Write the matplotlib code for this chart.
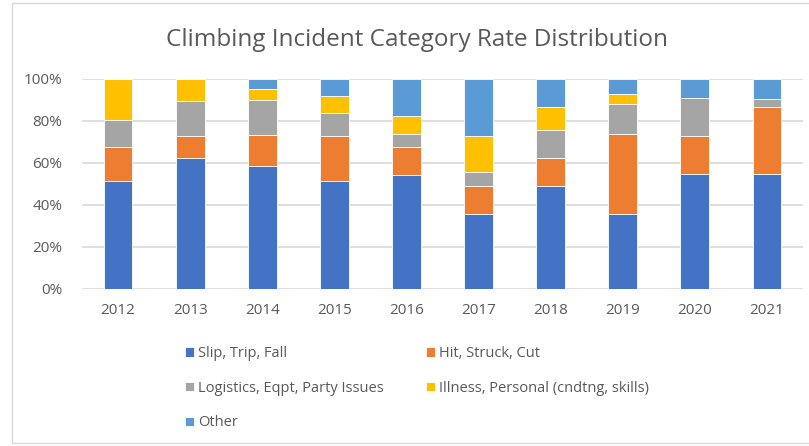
import numpy as np
import matplotlib.pyplot as plt
from matplotlib.patches import Rectangle

years = ["2012", "2013", "2014", "2015", "2016", "2017", "2018", "2019", "2020", "2021"]
categories = ["Slip, Trip, Fall", "Hit, Struck, Cut", "Logistics, Eqpt, Party Issues",
              "Illness, Personal (cndtng, skills)", "Other"]
colors = ["#4472C4", "#ED7D31", "#A5A5A5", "#FFC000", "#5B9BD5"]

# share of incidents per category (%)
slip = [51.3, 62.2, 58.4, 51.3, 54.1, 35.6, 48.9, 35.6, 54.6, 54.6]
hit = [16.3, 10.6, 14.7, 21.5, 13.5, 13.5, 13.3, 38.1, 18.2, 32.3]
logistics = [12.9, 16.8, 17.1, 10.9, 6.1, 6.8, 13.3, 14.3, 18.0, 3.4]
illness = [19.5, 10.4, 4.9, 8.2, 8.7, 17.0, 11.2, 4.9, 0.0, 0.0]
other = [0.0, 0.0, 4.9, 8.1, 17.6, 27.1, 13.3, 7.1, 9.2, 9.7]

series = [slip, hit, logistics, illness, other]

plt.rcParams["font.family"] = ["Open Sans", "DejaVu Sans"]
txt = "#595959"

fig = plt.figure(figsize=(8.09, 4.46), dpi=100)
# chart frame
fig.patches.append(Rectangle((12 / 809, 3 / 446), 1.0, 440 / 446, transform=fig.transFigure,
                             fill=False, edgecolor="#D9D9D9", lw=1.0))

ax = fig.add_axes([82 / 809, 1 - 289 / 446, 721 / 809, 210 / 446])
x = np.arange(len(years))
bottom = np.zeros(len(years))
for vals, name, c in zip(series, categories, colors):
    v = np.array(vals)
    ax.bar(x, v, 0.4, bottom=bottom, color=c, label=name, edgecolor="white", linewidth=0.6)
    bottom += v

ax.set_xlim(-0.5, len(years) - 0.5)
ax.set_ylim(0, 100)
ax.set_yticks(range(0, 101, 20))
ax.set_yticklabels([f"{t}%" for t in range(0, 101, 20)])
ax.set_xticks(x)
ax.set_xticklabels(years)
ax.tick_params(length=0, labelsize=11, colors=txt, pad=10)
ax.tick_params(axis="y", pad=14)
ax.grid(axis="y", color="#D9D9D9", lw=1.2)
ax.set_axisbelow(True)
for s in ax.spines.values():
    s.set_visible(False)

fig.text(417 / 809, 1 - 40 / 446, "Climbing Incident Category Rate Distribution",
         ha="center", va="center", fontsize=17.5, color=txt)

# matplotlib fills legend columns first, reorder so entries read across rows
handles, labels = ax.get_legend_handles_labels()
order = [0, 2, 4, 1, 3]
leg = fig.legend([handles[i] for i in order], [labels[i] for i in order], ncol=2,
                 loc="upper left", bbox_to_anchor=(172 / 809, 1 - 333 / 446), frameon=False,
                 fontsize=10.5, labelcolor=txt, handlelength=0.6, handleheight=0.6,
                 handletextpad=0.3, columnspacing=2.9, labelspacing=1.35)

fig.savefig("out.png", dpi=100)
